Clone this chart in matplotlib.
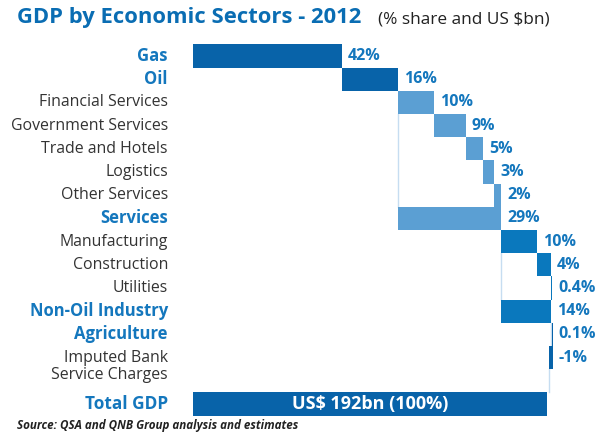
import matplotlib.pyplot as plt

sectors = ["Gas", "Oil", "Financial Services", "Government Services",
           "Trade and Hotels", "Logistics", "Other Services", "Services",
           "Manufacturing", "Construction", "Utilities", "Non-Oil Industry",
           "Agriculture", "Imputed Bank\nService Charges"]
shares = [42, 16, 10, 9, 5, 3, 2, 29, 10, 4, 0.4, 14, 0.1, -1]
share_labels = ["42%", "16%", "10%", "9%", "5%", "3%", "2%", "29%",
                "10%", "4%", "0.4%", "14%", "0.1%", "-1%"]
# main = step of the waterfall, item = part of a group, group = subtotal
kinds = ["main", "main", "item", "item", "item", "item", "item", "group",
         "item", "item", "item", "group", "main", "main"]
total_share = 100
total_label = "US$ 192bn (100%)"

DARK = "#0863a9"
SERV = "#5b9fd3"
IND = "#0a78bd"
LINE = "#c6ddf1"
TXT_BLUE = "#1477bd"

plt.rcParams["font.family"] = ["Open Sans", "DejaVu Sans"]

fig = plt.figure(figsize=(6.15, 4.33), dpi=100)
ax = fig.add_axes([193 / 615, 1 - 415.6 / 433, 418 / 615, (415.6 - 44.4) / 433])

LX = -0.06  # right edge of the category labels, in axes fraction

running = 0
group_start = None
ends = []
group_no = 0
for i, (name, v, kind) in enumerate(zip(sectors, shares, kinds)):
    if kind == "item":
        if group_start is None:
            group_start = running
            first_item = i
        left = running
        running += v
        color = SERV if group_no == 0 else IND
    elif kind == "group":
        left = group_start
        color = SERV if group_no == 0 else IND
        # bracket line on the left of the group
        ax.plot([group_start, group_start], [first_item + 0.5, i - 0.5],
                color=LINE, lw=1, zorder=1)
        group_start = None
        group_no += 1
    else:
        left = running
        running += v
        color = DARK
    ax.barh(i, v, left=left, height=1.0, color=color, zorder=2)
    ends.append(max(left, left + v))

    label_kw = dict(ha="right", va="center",
                    transform=ax.get_yaxis_transform(), clip_on=False)
    ty = i + (0.38 if "\n" in name else 0)
    if kind == "item" or "\n" in name:
        ax.text(LX, ty, name, color="#333333", fontsize=11.4,
                fontweight="medium", linespacing=1.1, **label_kw)
    else:
        ax.text(LX, ty, name, color=TXT_BLUE, fontsize=12,
                fontweight="bold", **label_kw)
    ax.text(ends[-1] + 1.7, i, share_labels[i], ha="left", va="center",
            fontsize=11.5, fontweight="bold", color=TXT_BLUE)

# connectors down to the last steps and to the total
n = len(sectors)
ax.plot([ends[11], ends[11]], [11.5, 12.5], color=LINE, lw=1, zorder=1)
ax.plot([running, running], [n - 0.5, n + 0.5], color=LINE, lw=1, zorder=1)

total_y = n + 1
ax.barh(total_y, total_share, left=0, height=1.0, color=DARK, zorder=2)
ax.text(total_share / 2, total_y, total_label, ha="center", va="center",
        color="white", fontsize=13, fontweight="bold")
ax.text(LX, total_y, "Total GDP", ha="right", va="center", fontsize=12.4,
        fontweight="bold", color=TXT_BLUE, transform=ax.get_yaxis_transform())

ax.set_xlim(0, 118)
ax.set_ylim(total_y + 0.5, -0.5)
ax.axis("off")

fig.text(17 / 615, 1 - 18 / 433, "GDP by Economic Sectors - 2012",
         fontsize=15.8, fontweight="bold", color="#0a6db3", va="center")
fig.text(378 / 615, 1 - 19 / 433, "(% share and US $bn)",
         fontsize=12.4, fontweight="medium", color="#222222", va="center")
fig.text(17 / 615, 1 - 425 / 433,
         "Source: QSA and QNB Group analysis and estimates",
         fontsize=8.4, style="italic", fontweight="bold", color="#222222",
         va="center")

fig.savefig("out.png", dpi=100)
